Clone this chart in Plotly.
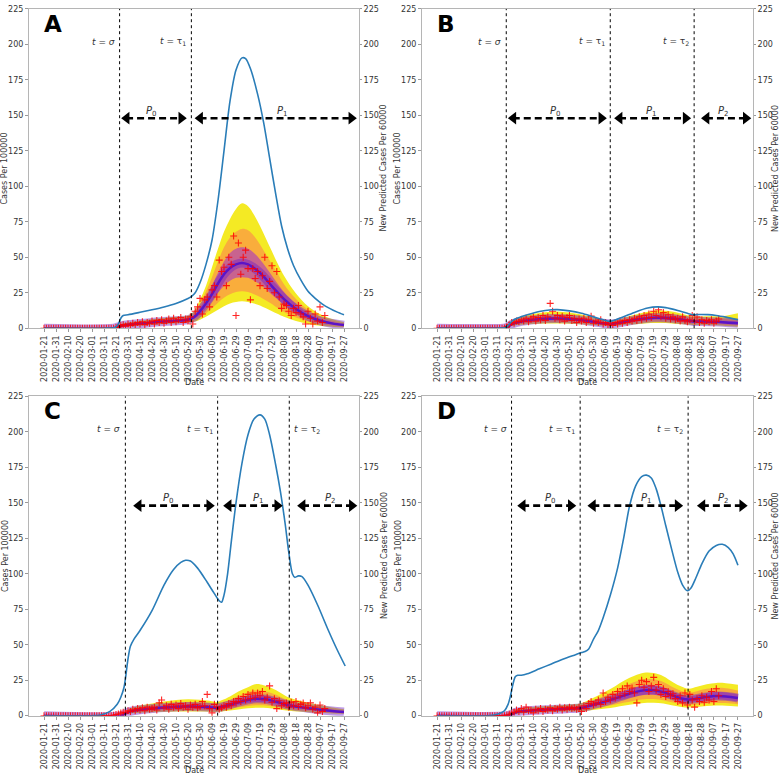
import pandas as pd
import plotly.graph_objects as go

START = pd.Timestamp("2020-01-21")

tick_labels = ["2020-01-21", "2020-01-31", "2020-02-10", "2020-02-20", "2020-03-01", "2020-03-11",
               "2020-03-21", "2020-03-31", "2020-04-10", "2020-04-20", "2020-04-30", "2020-05-10",
               "2020-05-20", "2020-05-30", "2020-06-09", "2020-06-19", "2020-06-29", "2020-07-09",
               "2020-07-19", "2020-07-29", "2020-08-08", "2020-08-18", "2020-08-28", "2020-09-07",
               "2020-09-17", "2020-09-27"]
y_ticks = [0, 25, 50, 75, 100, 125, 150, 175, 200, 225]

# observed daily cases (every second day from 2020-01-21)
obs_step = 2
A_obs = [0, 0, 0, 0, 0, 0, 0, 0, 0, 0,
         0, 0, 0, 0, 0, 0, 0, 0, 0, 0,
         0, 0, 0, 0, 0, 0, 0, 0, 0, 0,
         0.5, 1, 2, 2.5, 1.5, 3, 2, 3.5, 2.5, 4,
         3, 4.5, 2.5, 4, 3.5, 5, 3, 5.5, 4, 6,
         3.5, 5, 6.5, 4, 7, 4.5, 6, 7.5, 4, 6.5,
         5, 8, 3, 12, 15, 21, 10, 20, 22, 15,
         27, 30, 22, 48, 40, 43, 30, 50, 45, 65,
         9, 60, 38, 50, 55, 42, 20, 42, 35, 40,
         30, 37, 50, 28, 33, 44, 25, 40, 22, 14,
         17, 16, 12, 9, 14, 11, 16, 10, 8, 3,
         12, 7, 3, 10, 5, 15, 4, 9]
B_obs = [0, 0, 0, 0, 0, 0, 0, 0, 0, 0,
         0, 0, 0, 0, 0, 0, 0, 0, 0, 0,
         0, 0, 0, 0, 0, 0, 0, 0, 0.2, 1,
         2.5, 4, 3.5, 5, 4.5, 6, 5, 7, 4.5, 6.5,
         8, 5, 7.5, 6, 9, 5.5, 8, 17.5, 12, 7,
         9, 6, 8.5, 5, 7.5, 9, 5.5, 7, 4, 6.5,
         5, 7, 4, 6, 8.5, 3.5, 5, 4, 6, 3,
         4, 2.5, 3.5, 2, 4, 3, 5, 3.5, 5.5, 4,
         6, 5, 7, 5.5, 8, 6, 9, 7, 10, 7.5,
         12, 9, 13, 8, 11, 7, 9.5, 6.5, 8, 6,
         7, 5, 8, 5.5, 4.5, 6, 9, 5, 8, 4,
         6, 3.5, 5.5, 4.5, 6, 3.5, 5, 6.5]
C_obs = [0, 0, 0, 0, 0, 0, 0, 0, 0, 0,
         0, 0, 0, 0, 0, 0, 0, 0, 0, 0,
         0, 0, 0, 0, 0, 0, 0, 0, 0, 0.3,
         0.8, 1.2, 1.8, 2.5, 2, 3.5, 3, 4.5, 3.5, 5,
         4, 5.5, 3.5, 6, 4.5, 5, 6, 4, 9, 11,
         5.5, 7, 4.5, 8, 6, 7.5, 5, 8.5, 6, 7,
         4.5, 7.5, 6, 8, 5.5, 6.5, 10, 7, 15, 5,
         2, 8, 6, 4.5, 5.5, 7, 6, 8.5, 7, 10,
         9, 12, 10, 13.5, 11, 15, 12, 16, 13, 16,
         14, 17, 11, 13, 21, 9.5, 12, 5, 10.5, 7,
         8.5, 9, 6, 9.5, 7, 10, 6.5, 8, 9, 5.5,
         7, 9, 4.5, 6, 2, 7.5, 3, 5]
D_obs = [0, 0, 0, 0, 0, 0, 0, 0, 0, 0,
         0, 0, 0, 0, 0, 0, 0, 0, 0, 0,
         0, 0, 0, 0, 0, 0, 0, 0, 0, 0.4,
         1, 1.8, 2.5, 4, 3, 5, 2.5, 6, 3.5, 4,
         2, 4.5, 3.5, 5, 3, 4.5, 4, 5.5, 3.5, 5,
         4.5, 6, 4, 5.5, 4.5, 6, 5, 5.5, 4.5, 6,
         3, 7, 5, 8.5, 10, 7.5, 9, 11, 8, 16,
         10, 13, 11, 15, 12.5, 17, 14, 19, 15.5, 21,
         17, 19.5, 16, 9, 22, 25, 20, 24, 17, 21,
         27, 18, 22, 15, 19, 13.5, 17, 14, 15.5, 12,
         10, 14, 9, 16, 7.5, 15, 11, 6, 12, 10,
         14, 9.5, 13, 11, 17, 10, 19, 14]

# predicted new cases per 60000 (right axis): day offset from 2020-01-21, value
A_pred_day = [0, 50, 58, 60, 62, 64, 66, 70, 80, 90, 100, 110, 120, 123, 126, 130, 135, 140, 145, 150,
              155, 160, 165, 168, 172, 178, 183, 188, 193, 198, 203, 208, 214, 220, 226, 232, 238, 244, 250]
A_pred = [0, 0, 0.3, 1, 3, 7, 9, 9.5, 11.2, 13, 15, 17.5, 21, 22.5, 25, 32, 45, 62, 90, 125,
          160, 182, 190.5, 190, 183, 165, 145, 120, 95, 72, 56, 44, 34, 26, 21, 17, 14, 11.5, 9.5]
B_pred_day = [0, 50, 56, 58, 60, 63, 67, 75, 85, 95, 100, 110, 120, 130, 138, 143, 148, 155, 165, 175,
              183, 190, 200, 208, 213, 218, 225, 232, 240, 250]
B_pred = [0, 0, 0.3, 1, 3, 5.5, 7.2, 9.5, 11.8, 13, 13.1, 12.2, 10.5, 8, 6, 4.8, 5.8, 8, 11.5, 14.2,
          15, 14.5, 12.5, 10.5, 9.5, 9.7, 9.6, 9, 7.8, 6]
C_pred_day = [0, 40, 47, 55, 61, 64, 66.7, 68, 70, 72, 75, 80, 90, 100, 108, 114, 118, 122, 128, 136,
              142, 146, 148, 150, 153, 156, 160, 165, 170, 175, 180, 184, 188, 193, 197, 201, 204, 207,
              209, 212, 215, 220, 228, 236, 244, 251]
C_pred = [0, 0, 0.5, 3, 8, 13, 20, 27, 40, 49, 54, 60, 74, 92, 103, 108, 109.5, 109, 104, 94,
          86, 81, 80, 85, 100, 122, 150, 178, 198, 209, 212, 209, 198, 177, 158, 135, 115, 100,
          97.5, 98.5, 98, 92, 78, 62, 47, 35]
D_pred_day = [0, 40, 47, 52, 56, 59, 61, 63, 65, 67, 70, 75, 85, 95, 105, 115, 120, 123, 126, 130,
              134, 138, 144, 150, 155, 160, 165, 170, 174, 178, 182, 186, 190, 195, 200, 204, 208, 211,
              215, 220, 226, 232, 237, 242, 246, 250]
D_pred = [0, 0, 0.5, 1.5, 3.5, 8, 14, 22, 27.5, 28.5, 28.5, 29.5, 33, 36.5, 40, 43, 44.5, 45.2, 47, 54,
          60, 69, 85, 104, 125, 148, 162, 168.5, 169.5, 167.5, 160, 148, 134, 117, 101, 92, 88, 90,
          97, 107, 116, 120, 120.8, 118.5, 114, 106]

# posterior predictive quantiles (cases per 100000)
A_fan_day = [0, 58, 62, 66, 70, 80, 90, 100, 110, 120, 125, 130, 135, 140, 145, 150, 155, 160, 165, 170,
             175, 180, 185, 190, 195, 200, 210, 220, 230, 240, 250]
A_lo95 = [0, 0, 0.3, 1, 1.2, 1.8, 2.4, 3, 3.4, 3.8, 4.5, 6, 8, 10.5, 13, 15.5, 17.5, 18.5, 19, 18.5,
          17.5, 16, 14, 12, 10, 8, 5, 3, 1.8, 1.1, 0.7]
A_lo80 = [0, 0, 0.5, 1.3, 1.6, 2.3, 3, 3.7, 4.1, 4.6, 5.6, 7.5, 10.5, 14, 18, 21.5, 24, 25.5, 26, 25.5,
          24, 22, 19.5, 17, 14, 11.5, 7.5, 4.8, 3, 1.9, 1.2]
A_lo50 = [0, 0, 0.7, 1.6, 2, 2.8, 3.6, 4.2, 4.8, 5.3, 6.6, 9.5, 14, 19, 25, 30, 33.5, 35.5, 36, 35.5,
          33.5, 31, 27.5, 23.5, 20, 16.5, 10.5, 6.8, 4.2, 2.7, 1.7]
A_med = [0, 0, 1, 2, 2.4, 3.3, 4.1, 4.7, 5.3, 6, 7.8, 12, 17.5, 24, 31.5, 38, 42.5, 45, 46, 45,
         42.5, 39, 34.5, 29.5, 25, 20.5, 13.5, 8.5, 5.3, 3.4, 2.2]
A_hi50 = [0, 0, 1.3, 2.5, 2.9, 3.9, 4.8, 5.4, 6, 6.8, 9, 14.5, 21.5, 30, 39, 47, 53, 56, 57, 56,
          53, 48.5, 43, 37, 31, 25.5, 17, 10.5, 6.6, 4.2, 2.7]
A_hi80 = [0, 0, 1.6, 3, 3.4, 4.5, 5.5, 6.2, 7, 7.8, 10.5, 17, 26, 36, 47, 57, 64, 68, 70, 69,
          65, 59, 52, 45, 38, 31, 20.5, 13, 8.2, 5.2, 3.3]
A_hi95 = [0, 0, 2, 3.5, 4, 5.2, 6.3, 7.2, 8, 9, 12, 20, 30, 43, 56, 68, 77, 84, 88, 86,
          80, 72, 63, 54, 45, 37, 24.5, 15.5, 10, 6.5, 4.2]

B_fan_day = [0, 55, 58, 62, 70, 80, 90, 100, 110, 120, 130, 138, 144, 150, 160, 170, 180, 185, 195, 205,
             213, 220, 230, 240, 250]
B_lo95 = [0, 0, 0.2, 1.5, 2.5, 3, 3.3, 3.4, 3.2, 2.8, 2.2, 1.7, 1.5, 1.8, 2.6, 3.2, 3.6, 3.7, 3.4, 2.8,
          2.3, 2.2, 2, 1.6, 1.1]
B_lo80 = [0, 0, 0.3, 2, 3.2, 3.9, 4.3, 4.4, 4.2, 3.7, 2.9, 2.3, 2, 2.4, 3.4, 4.2, 4.7, 4.8, 4.4, 3.7,
          3.1, 3, 2.8, 2.4, 1.8]
B_lo50 = [0, 0, 0.4, 2.4, 4, 4.9, 5.4, 5.6, 5.3, 4.7, 3.7, 2.9, 2.5, 3, 4.3, 5.3, 6, 6.1, 5.6, 4.7,
          3.9, 3.8, 3.6, 3.2, 2.6]
B_med = [0, 0, 0.5, 2.8, 4.8, 5.9, 6.6, 6.9, 6.5, 5.7, 4.5, 3.5, 3, 3.6, 5.2, 6.5, 7.3, 7.4, 6.9, 5.8,
         4.8, 4.7, 4.5, 4.1, 3.5]
B_hi50 = [0, 0, 0.6, 3.3, 5.7, 7, 7.8, 8.2, 7.7, 6.8, 5.4, 4.1, 3.5, 4.3, 6.2, 7.7, 8.7, 8.9, 8.2, 7,
          5.8, 5.7, 5.5, 5.2, 4.8]
B_hi80 = [0, 0, 0.8, 3.8, 6.8, 8.4, 9.4, 9.8, 9.2, 8.1, 6.4, 4.9, 4.1, 5, 7.3, 9.1, 10.3, 10.6, 9.8, 8.3,
          6.9, 6.9, 6.8, 6.6, 6.6]
B_hi95 = [0, 0, 1, 4.5, 8, 10, 11.3, 11.8, 11, 9.6, 7.5, 5.7, 4.7, 5.9, 8.6, 10.8, 12.3, 12.6, 11.7, 9.8,
          8.2, 8.3, 8.4, 8.8, 10.5]

C_fan_day = [0, 64, 68, 72, 80, 90, 100, 110, 120, 130, 138, 144, 148, 155, 162, 170, 177, 183, 190, 197,
             204, 212, 220, 230, 240, 250]
C_lo95 = [0, 0, 0.8, 1.5, 2, 2.4, 2.7, 2.9, 3, 2.9, 2.8, 2.6, 2.9, 3.6, 4.4, 5.2, 5.6, 5.5, 5, 4.2,
          3.5, 3, 2.5, 2, 1.6, 1.3]
C_lo80 = [0, 0, 1, 2, 2.7, 3.2, 3.6, 3.9, 4, 3.9, 3.7, 3.4, 3.9, 4.8, 5.9, 6.9, 7.4, 7.3, 6.6, 5.6,
          4.6, 3.9, 3.3, 2.6, 2.1, 1.7]
C_lo50 = [0, 0, 1.3, 2.5, 3.4, 4.1, 4.6, 5, 5.2, 5, 4.8, 4.4, 5, 6.2, 7.6, 8.9, 9.6, 9.4, 8.5, 7.2,
          5.9, 5, 4.2, 3.4, 2.7, 2.1]
C_med = [0, 0, 1.6, 3, 4.2, 5, 5.7, 6.2, 6.5, 6.3, 6, 5.5, 6.2, 7.7, 9.5, 11.1, 12, 11.7, 10.6, 9,
         7.3, 6.2, 5.2, 4.2, 3.3, 2.6]
C_hi50 = [0, 0, 2, 3.6, 5, 6, 6.9, 7.5, 7.9, 7.7, 7.3, 6.7, 7.5, 9.4, 11.6, 13.6, 14.7, 14.3, 13, 11,
          8.9, 7.5, 6.3, 5.1, 4, 3.1]
C_hi80 = [0, 0, 2.4, 4.3, 6, 7.2, 8.3, 9.1, 9.6, 9.3, 8.8, 8, 9, 11.3, 14, 16.5, 17.9, 17.4, 15.8, 13.4,
          10.8, 9, 7.6, 6.1, 4.8, 3.8]
C_hi95 = [0, 0, 3, 5.2, 7.2, 8.6, 10, 11, 11.6, 11.2, 10.5, 9.5, 10.8, 13.6, 17, 20, 22.3, 21.5, 19.3, 16.2,
          12.8, 10.8, 9.1, 7.3, 5.8, 4.6]

D_fan_day = [0, 58, 62, 66, 72, 85, 100, 110, 119, 126, 133, 140, 148, 156, 164, 172, 180, 188, 196, 203,
             209, 216, 224, 232, 240, 250]
D_lo95 = [0, 0, 0.4, 1.2, 1.7, 2.2, 2.6, 2.9, 3, 3.6, 4.3, 5.1, 6, 7.1, 8.2, 9, 9.1, 8.5, 7.2, 6.2,
          5.8, 6.2, 6.8, 7.1, 7, 6.4]
D_lo80 = [0, 0, 0.6, 1.6, 2.2, 2.8, 3.2, 3.6, 3.8, 4.6, 5.6, 6.6, 7.9, 9.3, 10.6, 11.6, 11.7, 10.9, 9.2, 7.9,
          7.4, 7.9, 8.6, 9, 8.9, 8.1]
D_lo50 = [0, 0, 0.8, 2, 2.7, 3.4, 3.9, 4.3, 4.6, 5.7, 7, 8.3, 10, 11.8, 13.4, 14.6, 14.7, 13.6, 11.5, 9.9,
          9.3, 9.9, 10.8, 11.3, 11.1, 10.1]
D_med = [0, 0, 1, 2.5, 3.3, 4, 4.6, 5, 5.4, 6.8, 8.4, 10.1, 12.2, 14.5, 16.5, 17.9, 18, 16.6, 14.1, 12.1,
         11.4, 12.1, 13.2, 13.8, 13.6, 12.4]
D_hi50 = [0, 0, 1.3, 3, 3.9, 4.7, 5.3, 5.8, 6.3, 8, 10, 12.1, 14.7, 17.5, 19.9, 21.5, 21.6, 20, 16.9, 14.6,
          13.7, 14.6, 15.9, 16.6, 16.3, 14.9]
D_hi80 = [0, 0, 1.6, 3.6, 4.6, 5.5, 6.2, 6.8, 7.3, 9.5, 11.8, 14.4, 17.5, 20.9, 23.7, 25.6, 25.7, 23.8, 20.1, 17.4,
          16.3, 17.3, 18.9, 19.7, 19.4, 17.8]
D_hi95 = [0, 0, 2, 4.3, 5.4, 6.4, 7.2, 7.9, 8.6, 11.1, 13.8, 17, 20.8, 24.9, 28.1, 30.2, 30, 27.8, 23.6, 20.5,
          19, 20.3, 22.1, 23.1, 22.9, 21.8]

# change points (day offsets from 2020-01-21)
A_change_day = [63, 122.8]
B_change_day = [57.5, 143.9, 213.6]
C_change_day = [67.8, 144.7, 204.4]
D_change_day = [61.9, 118.9, 208.6]
change_labels = ["<i>t</i> = <i>σ</i>", "<i>t</i> = τ<sub>1</sub>", "<i>t</i> = τ<sub>2</sub>"]
period_labels = ["<i>P</i><sub>0</sub>", "<i>P</i><sub>1</sub>", "<i>P</i><sub>2</sub>"]
# period arrows: (start day, end day, label day)
A_periods = [(64.4, 118.9, 89.4), (125.6, 260.6, 198.6)]
B_periods = [(58.9, 141.0, 98.6), (147.2, 211.0, 178.0), (219.4, 261.0, 238.0)]
C_periods = [(74.4, 142.2, 104.0), (149.4, 198.9, 179.0), (211.0, 261.0, 239.0)]
D_periods = [(66.7, 115.6, 94.0), (125.0, 204.4, 173.6), (216.0, 258.0, 238.0)]
ARROW_Y = 148
LABEL_Y = 202

W, H = 780, 779
FONT = "DejaVu Sans"
TXT = "#333333"


def days_to_dates(days):
    return [START + pd.Timedelta(days=float(d)) for d in days]


panels = [
    dict(name="A", obs=A_obs, pday=A_pred_day, pred=A_pred, fday=A_fan_day,
         q=(A_lo95, A_lo80, A_lo50, A_med, A_hi50, A_hi80, A_hi95), cp=A_change_day, per=A_periods,
         box=(29, 359, 5, 328), lab_side=["l", "l"]),
    dict(name="B", obs=B_obs, pday=B_pred_day, pred=B_pred, fday=B_fan_day,
         q=(B_lo95, B_lo80, B_lo50, B_med, B_hi50, B_hi80, B_hi95), cp=B_change_day, per=B_periods,
         box=(422, 753, 5, 328), lab_side=["l", "l", "l"]),
    dict(name="C", obs=C_obs, pday=C_pred_day, pred=C_pred, fday=C_fan_day,
         q=(C_lo95, C_lo80, C_lo50, C_med, C_hi50, C_hi80, C_hi95), cp=C_change_day, per=C_periods,
         box=(29, 359, 397, 720), lab_side=["l", "l", "r"]),
    dict(name="D", obs=D_obs, pday=D_pred_day, pred=D_pred, fday=D_fan_day,
         q=(D_lo95, D_lo80, D_lo50, D_med, D_hi50, D_hi80, D_hi95), cp=D_change_day, per=D_periods,
         box=(422, 753, 397, 720), lab_side=["l", "l", "l"]),
]

fig = go.Figure()
annotations = []
shapes = []
layout_axes = {}

band_colors = ["#f4ea24", "#f9ad3c", "#c8638f"]
x_range = [START - pd.Timedelta(days=12.5), START + pd.Timedelta(days=262.5)]


def paper_text(px, py, text, size, angle=0, color=TXT):
    return dict(x=px / W, y=1 - py / H, xref="paper", yref="paper", text=text, textangle=angle,
                showarrow=False, xanchor="center", yanchor="middle",
                font=dict(family=FONT, size=size, color=color))


for i, p in enumerate(panels):
    k = i + 1
    xa = "x" if k == 1 else f"x{k}"
    yl_n = 2 * i + 1
    yr_n = 2 * i + 2
    yl = "y" if yl_n == 1 else f"y{yl_n}"
    yr = f"y{yr_n}"
    x0, x1, ytop, ybot = p["box"]

    fx = days_to_dates(p["fday"])
    lo95, lo80, lo50, med, hi50, hi80, hi95 = p["q"]
    for (lo, hi), col in zip([(lo95, hi95), (lo80, hi80), (lo50, hi50)], band_colors):
        fig.add_trace(go.Scatter(x=fx, y=lo, mode="lines", line=dict(width=0, shape="spline"),
                                 xaxis=xa, yaxis=yl, showlegend=False, hoverinfo="skip"))
        fig.add_trace(go.Scatter(x=fx, y=hi, mode="lines", line=dict(width=0, shape="spline"),
                                 fill="tonexty", fillcolor=col,
                                 xaxis=xa, yaxis=yl, showlegend=False, hoverinfo="skip"))
    fig.add_trace(go.Scatter(x=fx, y=med, mode="lines",
                             line=dict(width=9, color="rgba(112,30,200,0.45)", shape="spline"),
                             xaxis=xa, yaxis=yl, showlegend=False, hoverinfo="skip"))
    fig.add_trace(go.Scatter(x=fx, y=med, mode="lines",
                             line=dict(width=2.5, color="#5a14c8", shape="spline"),
                             xaxis=xa, yaxis=yl, showlegend=False))

    ox = days_to_dates([obs_step * j for j in range(len(p["obs"]))])
    fig.add_trace(go.Scatter(x=ox, y=p["obs"], mode="markers",
                             marker=dict(symbol="cross-thin", size=5,
                                         line=dict(width=1.1, color="rgba(255,0,0,0.85)")),
                             xaxis=xa, yaxis=yl, showlegend=False))

    fig.add_trace(go.Scatter(x=days_to_dates(p["pday"]), y=p["pred"], mode="lines",
                             line=dict(width=1.6, color="#2a7db8", shape="spline", smoothing=0.8),
                             xaxis=xa, yaxis=yr, showlegend=False))

    # period arrows
    for j, (s, e, lx) in enumerate(p["per"]):
        fig.add_trace(go.Scatter(x=days_to_dates([s + 4, e - 4]), y=[ARROW_Y, ARROW_Y], mode="lines",
                                 line=dict(color="black", width=2.6, dash="7px,4px"),
                                 xaxis=xa, yaxis=yr, showlegend=False, hoverinfo="skip"))
        fig.add_trace(go.Scatter(x=days_to_dates([s + 4.5, e - 4.5]), y=[ARROW_Y, ARROW_Y], mode="markers",
                                 marker=dict(symbol=["triangle-left", "triangle-right"], size=11, color="black"),
                                 xaxis=xa, yaxis=yr, showlegend=False, hoverinfo="skip"))
        annotations.append(dict(x=START + pd.Timedelta(days=lx), y=153, xref=xa, yref=yl,
                                text=period_labels[j], showarrow=False, xanchor="center", yanchor="middle",
                                font=dict(family=FONT, size=10, color=TXT)))

    # change point lines and labels
    for j, cd in enumerate(p["cp"]):
        cdate = START + pd.Timedelta(days=cd)
        shapes.append(dict(type="line", xref=xa, yref=f"{yl} domain", x0=cdate, x1=cdate, y0=0, y1=1,
                           line=dict(color="black", width=1, dash="dot")))
        right = p["lab_side"][j] == "l"
        annotations.append(dict(x=cdate, y=LABEL_Y, xref=xa, yref=yl, text=change_labels[j],
                                showarrow=False, xanchor="right" if right else "left", yanchor="middle",
                                xshift=-3 if right else 3,
                                font=dict(family=FONT, size=9, color=TXT)))

    # axes
    xdom = [x0 / W, x1 / W]
    ydom = [1 - ybot / H, 1 - ytop / H]
    xkey = "xaxis" if k == 1 else f"xaxis{k}"
    ylkey = "yaxis" if yl_n == 1 else f"yaxis{yl_n}"
    yrkey = f"yaxis{yr_n}"
    layout_axes[xkey] = dict(domain=xdom, anchor=yl, type="date", range=x_range,
                             tickvals=tick_labels, ticktext=tick_labels, tickangle=-90,
                             tickfont=dict(family=FONT, size=8, color=TXT),
                             ticks="outside", ticklen=3, tickcolor="#999",
                             showline=True, linecolor="#b5b5b5", linewidth=1, mirror=True,
                             showgrid=False, zeroline=False)
    layout_axes[ylkey] = dict(domain=ydom, anchor=xa, range=[0, 225], tickvals=y_ticks,
                              tickfont=dict(family=FONT, size=8, color=TXT),
                              ticks="outside", ticklen=3, tickcolor="#999",
                              showline=True, linecolor="#b5b5b5", linewidth=1,
                              showgrid=False, zeroline=False)
    layout_axes[yrkey] = dict(overlaying=yl, anchor=xa, side="right", range=[0, 225], tickvals=y_ticks,
                              tickfont=dict(family=FONT, size=8, color=TXT),
                              ticks="outside", ticklen=2, tickcolor="#999",
                              showline=True, linecolor="#b5b5b5", linewidth=1,
                              showgrid=False, zeroline=False)

    # panel letter, axis titles
    annotations.append(paper_text(x0 + 24, ytop + 15, f"<b>{p['name']}</b>", 23, color="black"))
    annotations.append(paper_text(x0 - 24, (ytop + ybot) / 2, "Cases Per 100000", 8, angle=-90))
    annotations.append(paper_text(min(x1 + 25, W - 4.5), (ytop + ybot) / 2,
                                  "New Predicted Cases Per 60000", 8, angle=-90))
    annotations.append(paper_text((x0 + x1) / 2, ybot + 55, "Date", 8))

fig.update_layout(width=W, height=H, margin=dict(l=0, r=0, t=0, b=0),
                  plot_bgcolor="white", paper_bgcolor="white", showlegend=False,
                  annotations=annotations, shapes=shapes, **layout_axes)

fig.write_html("out.html", config={"displayModeBar": False},
               post_script="document.body.style.margin='0';")
